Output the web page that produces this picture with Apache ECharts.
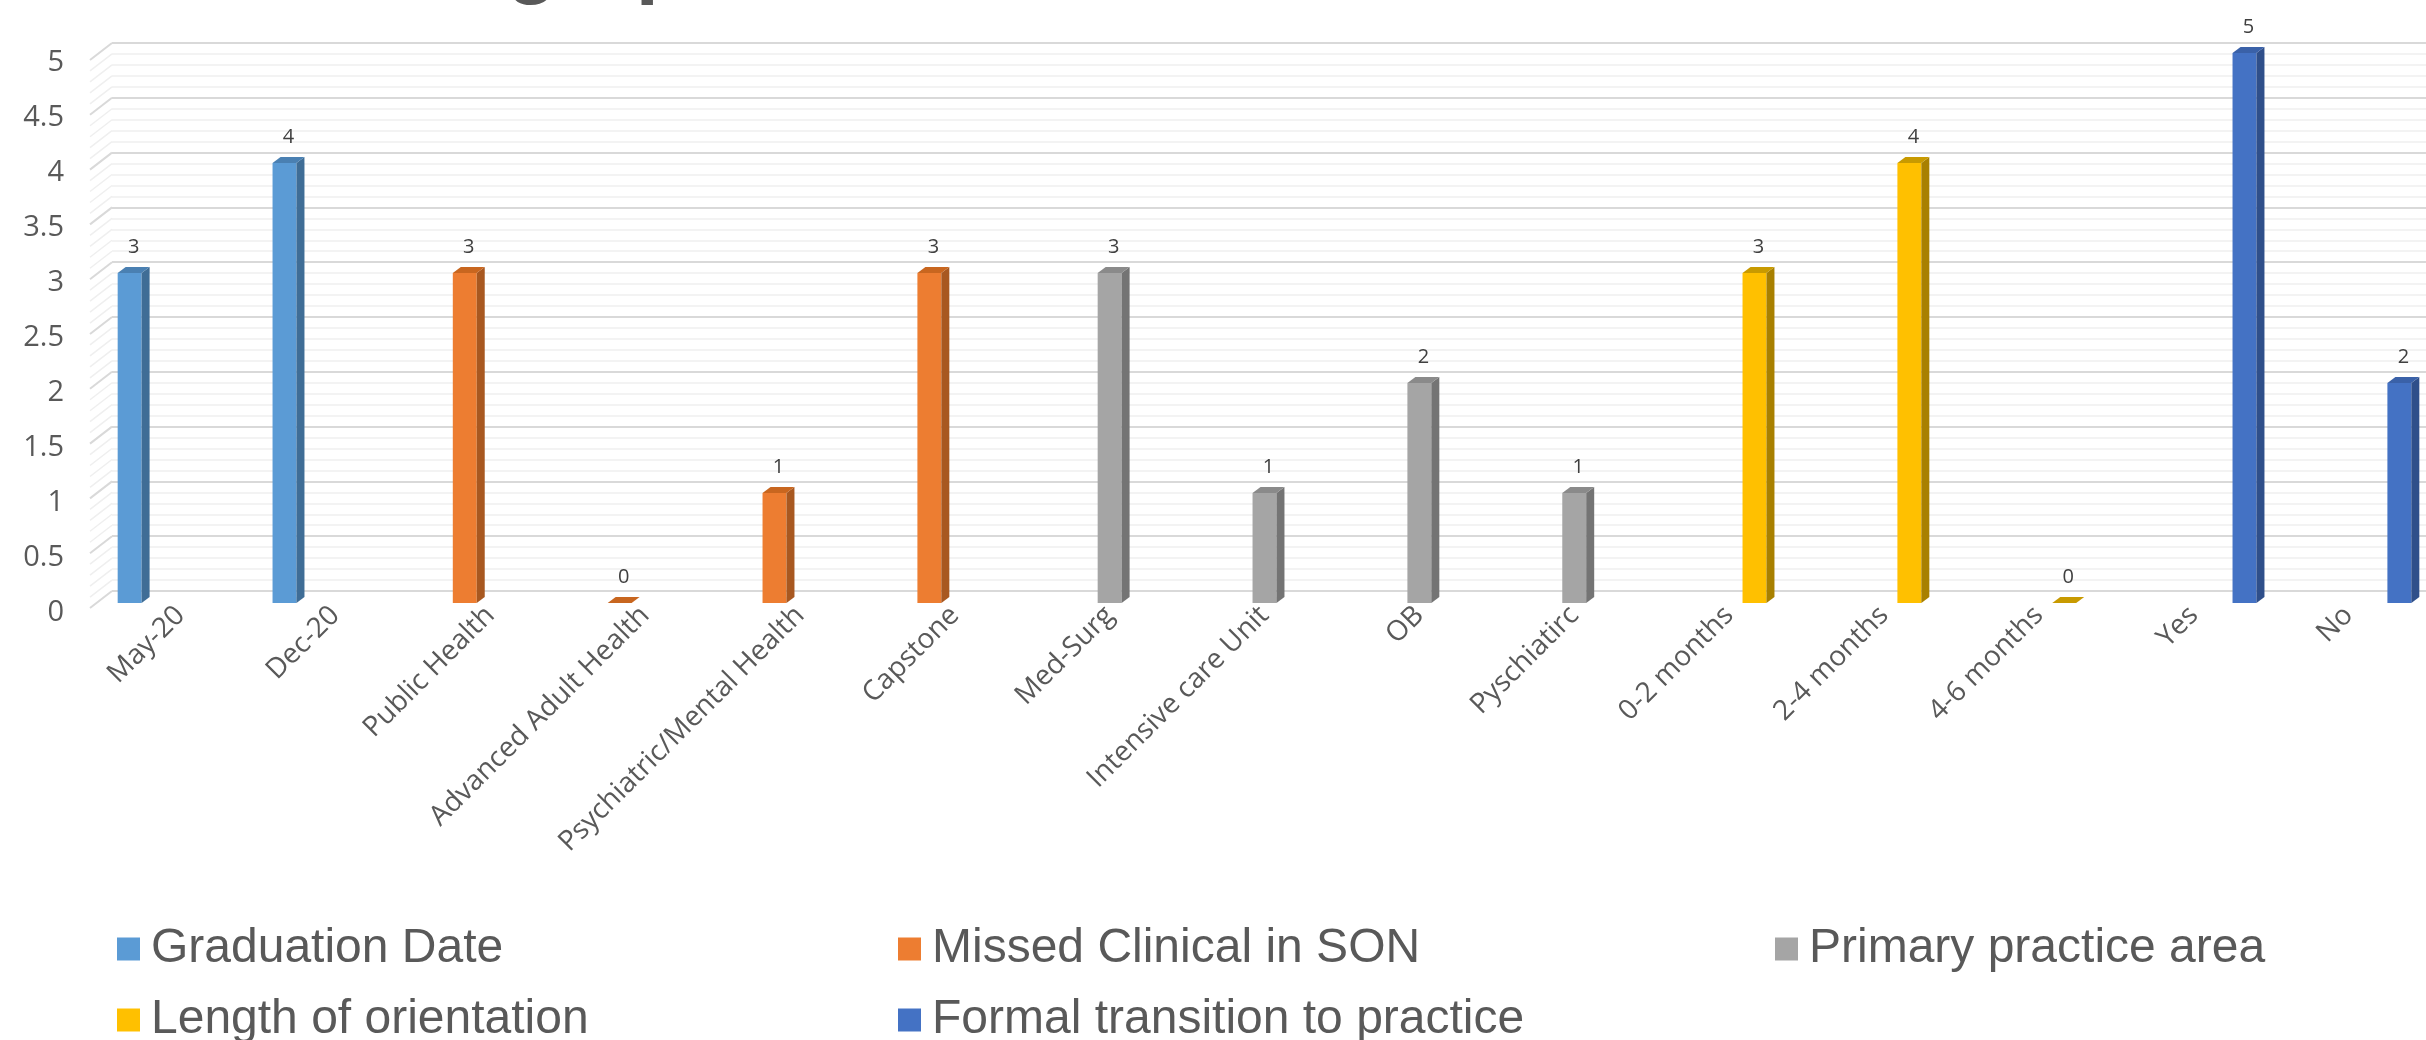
<!DOCTYPE html>
<html>
<head>
<meta charset="utf-8">
<script src="https://cdn.jsdelivr.net/npm/echarts@6/dist/echarts.min.js"></script>
<style>
  html, body { margin: 0; padding: 0; background: #fff; }
  #main { width: 2426px; height: 1040px; }
</style>
</head>
<body>
<div id="main"></div>
<script>
// categories on the x axis
var categories = ['May-20', 'Dec-20', 'Public Health', 'Advanced Adult Health', 'Psychiatric/Mental Health',
    'Capstone', 'Med-Surg', 'Intensive care Unit', 'OB', 'Pyschiatirc',
    '0-2 months', '2-4 months', '4-6 months', 'Yes', 'No'];

var seriesNames = ['Graduation Date', 'Missed Clinical in SON', 'Primary practice area',
    'Length of orientation', 'Formal transition to practice'];

// one list per series, null where the series has no bar
var graduationDate = [3, 4, null, null, null, null, null, null, null, null, null, null, null, null, null];
var missedClinical = [null, null, 3, 0, 1, 3, null, null, null, null, null, null, null, null, null];
var practiceArea   = [null, null, null, null, null, null, 3, 1, 2, 1, null, null, null, null, null];
var orientation    = [null, null, null, null, null, null, null, null, null, null, 3, 4, 0, null, null];
var formalTransition = [null, null, null, null, null, null, null, null, null, null, null, null, null, 5, 2];

var yTicks = { min: 0, max: 5, interval: 0.5 };

var allValues = [graduationDate, missedClinical, practiceArea, orientation, formalTransition];

// front / side / top colours
var colors = [
    ['#5B9BD5', '#3F6D96', '#4A80B2'],
    ['#ED7D31', '#A85820', '#C8661F'],
    ['#A5A5A5', '#747474', '#8A8A8A'],
    ['#FFC000', '#A88000', '#C89A00'],
    ['#4472C4', '#2F4F8A', '#3A61A8']
];

var myChart = echarts.init(document.getElementById('main'));

function makeBarRender(s) {
    return function (params, api) {
        var idx = api.value(0);
        var val = api.value(1);
        var top = api.coord([idx, val]);
        var base = api.coord([idx, 0]);
        var band = api.size([1, 0])[0];
        var w = band * 0.1545;
        var step = band * 0.164;
        var xc = top[0] + (s - 2) * step;
        var x0 = xc - w / 2, x1 = xc + w / 2;
        var dx = 8, dy = -6;
        var c = colors[s];
        return {
            type: 'group',
            children: [
                { type: 'rect', shape: { x: x0, y: top[1], width: w, height: base[1] - top[1] }, style: { fill: c[0] } },
                { type: 'polygon', shape: { points: [[x1, top[1]], [x1 + dx, top[1] + dy], [x1 + dx, base[1] + dy], [x1, base[1]]] }, style: { fill: c[1] } },
                { type: 'polygon', shape: { points: [[x0, top[1]], [x0 + dx, top[1] + dy], [x1 + dx, top[1] + dy], [x1, top[1]]] }, style: { fill: c[2] } },
                { type: 'text', style: { text: String(val), x: xc + dx / 2, y: top[1] + dy - 10, align: 'center', verticalAlign: 'bottom',
                    fontSize: 20, fill: '#404040', fontFamily: 'Open Sans' } }
            ]
        };
    };
}

var series = [];
allValues.forEach(function (arr, s) {
    var data = [];
    arr.forEach(function (v, i) { if (v !== null) data.push([i, v]); });
    series.push({
        name: seriesNames[s],
        type: 'custom',
        xAxisIndex: 0,
        yAxisIndex: 0,
        clip: false,
        itemStyle: { color: colors[s][0] },
        encode: { x: 0, y: 1 },
        renderItem: makeBarRender(s),
        data: data,
        z: 5
    });
});

// side wall of the 3D back wall
series.push({
    type: 'custom',
    xAxisIndex: 1,
    yAxisIndex: 1,
    silent: true,
    clip: false,
    data: [[0]],
    renderItem: function (params, api) {
        var lines = [];
        for (var k = 0; k <= 50; k++) {
            var p = api.coord([0, k / 10]);
            var major = (k % 5 === 0);
            lines.push({
                type: 'line',
                shape: { x1: p[0], y1: p[1], x2: p[0] - 22, y2: p[1] + 17 },
                style: { stroke: major ? '#d9d9d9' : '#efefef', lineWidth: major ? 2 : 1.5 }
            });
        }
        return { type: 'group', children: lines };
    },
    z: 1
});

var legendPos = [[112, 920], [893, 920], [1770, 920], [112, 991], [893, 991]];
var legends = seriesNames.map(function (n, i) {
    return {
        data: [n],
        left: legendPos[i][0],
        top: legendPos[i][1],
        icon: 'rect',
        itemWidth: 23,
        itemHeight: 23,
        selectedMode: false,
        textStyle: { fontSize: 48, color: '#595959', fontFamily: 'Liberation Sans', padding: [0, 0, 0, 6] }
    };
});

option = {
    animation: false,
    textStyle: { fontFamily: 'Open Sans' },
    title: {
        text: 'Demographics',
        left: 271,
        top: -81,
        textStyle: { fontSize: 83, lineHeight: 83, fontWeight: 'bold', color: '#595959', fontFamily: 'Liberation Sans' }
    },
    legend: legends,
    grid: [
        { left: 103, top: 53, width: 2330, height: 550 },
        { left: 112, top: 43, right: 0, height: 548 }
    ],
    xAxis: [
        {
            type: 'category',
            gridIndex: 0,
            data: categories,
            axisLine: { show: false },
            axisTick: { show: false },
            axisLabel: { rotate: 45, interval: 0, margin: 8, fontSize: 28, color: '#595959', fontFamily: 'Open Sans' }
        },
        { type: 'value', gridIndex: 1, min: 0, max: 1, show: false }
    ],
    yAxis: [
        {
            type: 'value',
            gridIndex: 0,
            min: yTicks.min,
            max: yTicks.max,
            interval: yTicks.interval,
            axisLine: { show: false },
            axisTick: { show: false },
            splitLine: { show: false },
            axisLabel: { margin: 39, fontSize: 29, color: '#595959', fontFamily: 'Open Sans', verticalAlign: 'top', lineHeight: 20 }
        },
        {
            type: 'value',
            gridIndex: 1,
            min: yTicks.min,
            max: yTicks.max,
            interval: yTicks.interval,
            axisLine: { show: false },
            axisTick: { show: false },
            axisLabel: { show: false },
            splitLine: { lineStyle: { color: '#d9d9d9', width: 2 } },
            minorTick: { show: false, splitNumber: 5 },
            minorSplitLine: { show: true, lineStyle: { color: '#efefef', width: 1.5 } }
        }
    ],
    series: series
};

myChart.setOption(option);
window.onresize = myChart.resize;
</script>
</body>
</html>
